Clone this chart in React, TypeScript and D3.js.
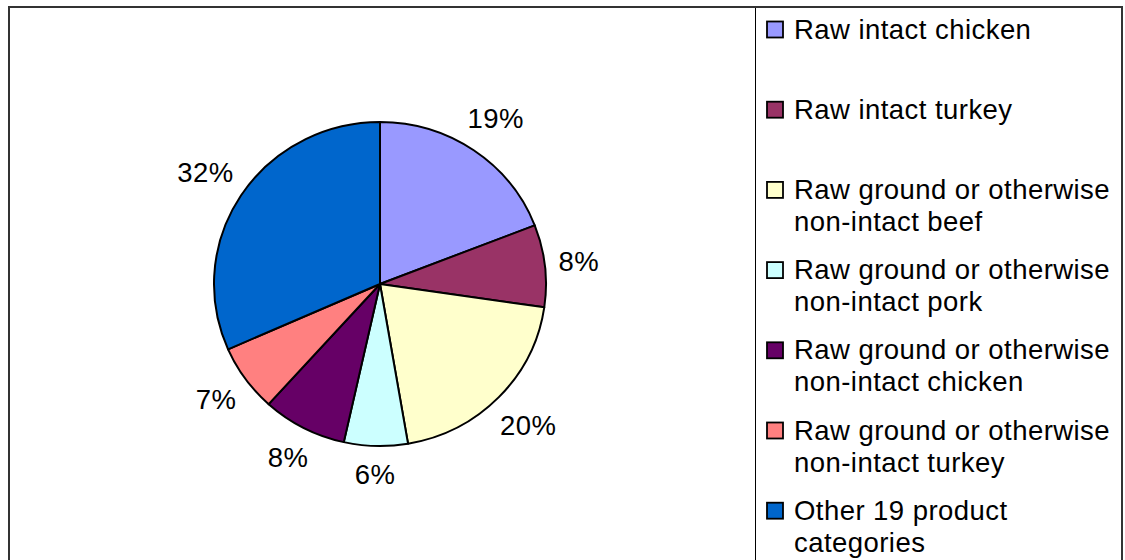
import React from "react";
import * as d3 from "d3";

const categories = [
  "Raw intact chicken",
  "Raw intact turkey",
  "Raw ground or otherwise non-intact beef",
  "Raw ground or otherwise non-intact pork",
  "Raw ground or otherwise non-intact chicken",
  "Raw ground or otherwise non-intact turkey",
  "Other 19 product categories",
];
const legendLines = [
  ["Raw intact chicken"],
  ["Raw intact turkey"],
  ["Raw ground or otherwise", "non-intact beef"],
  ["Raw ground or otherwise", "non-intact pork"],
  ["Raw ground or otherwise", "non-intact chicken"],
  ["Raw ground or otherwise", "non-intact turkey"],
  ["Other 19 product", "categories"],
];
const values = [19.1, 8.2, 20.0, 6.2, 8.2, 6.7, 31.6];
const colors = ["#9999FF", "#993366", "#FFFFCC", "#CCFFFF", "#660066", "#FF8080", "#0066CC"];

const W = 1125;
const H = 560;
const cx = 380;
const cy = 284;
const rx = 166;
const ry = 162;
const FONT = "'Liberation Sans', Arial, Helvetica, sans-serif";
const FS = 27.5;
const LS = 0.45;

export default function App() {
  const pie = d3.pie<number>().sort(null).value((d) => d);
  const arcs = pie(values);
  const arc = d3.arc<d3.PieArcDatum<number>>().innerRadius(0).outerRadius(rx);
  const sy = ry / rx;

  const labels = arcs.map((a, i) => {
    const mid = (a.startAngle + a.endAngle) / 2;
    const text = `${Math.round(values[i])}%`;
    const w = text.length * 0.5 * FS * 1.1;
    const h = FS * 0.72;
    const s = Math.abs(Math.sin(mid));
    const c = Math.abs(Math.cos(mid));
    const dx = rx + 18 + (s * w) / 2 + (c * h) / 2;
    const dy = ry + 18 + (s * w) / 2 + (c * h) / 2;
    return {
      x: cx + Math.sin(mid) * dx,
      y: cy - Math.cos(mid) * dy,
      text,
    };
  });

  const legendX = 755.5;
  const itemStart = 38.5;
  const itemStep = 80.2;
  const lineStep = 32;

  return (
    <svg
      width={W}
      height={H}
      style={{ position: "absolute", left: 0, top: 0, background: "#fff" }}
      fontFamily={FONT}
    >
      <rect x={0} y={0} width={W} height={H} fill="#fff" />
      <g transform={`translate(${cx},${cy}) scale(1,${sy})`}>
        {arcs.map((a, i) => (
          <path
            key={categories[i]}
            d={arc(a) || ""}
            fill={colors[i]}
            stroke="#000"
            strokeWidth={2}
            strokeLinejoin="round"
          />
        ))}
      </g>
      {labels.map((l, i) => (
        <text
          key={i}
          x={l.x}
          y={l.y}
          textAnchor="middle"
          dominantBaseline="central"
          fontSize={FS}
          letterSpacing={LS}
          fill="#000"
        >
          {l.text}
        </text>
      ))}
      <line x1={legendX} y1={7} x2={legendX} y2={H} stroke="#000" strokeWidth={1} />
      {legendLines.map((lines, i) => {
        const base = itemStart + i * itemStep;
        return (
          <g key={i}>
            <rect
              x={767}
              y={base - 17}
              width={16}
              height={16}
              fill={colors[i]}
              stroke="#000"
              strokeWidth={1.8}
            />
            {lines.map((t, j) => (
              <text
                key={j}
                x={794}
                y={base + j * lineStep}
                fontSize={FS}
                letterSpacing={LS}
                fill="#000"
              >
                {t}
              </text>
            ))}
          </g>
        );
      })}
      <rect x={9} y={7} width={1113} height={H} fill="none" stroke="#333" strokeWidth={2} />
    </svg>
  );
}
